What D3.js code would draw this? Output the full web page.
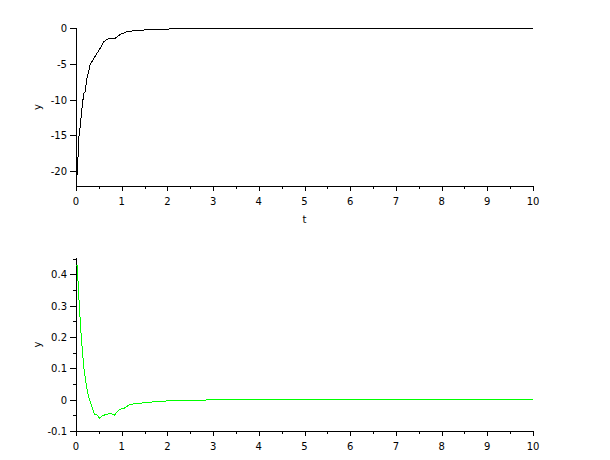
<!DOCTYPE html>
<html><head><meta charset="utf-8">
<script src="https://cdn.jsdelivr.net/npm/d3@7"></script>
<style>body{margin:0;background:#fff}svg{display:block}text{font-family:"DejaVu Sans",sans-serif;font-size:10px;fill:#000}</style>
</head><body>
<svg id="c" width="610" height="460"></svg>
<script>
// Data
const topT = [0, 0.01, 0.02, 0.04, 0.06, 0.095, 0.13, 0.17, 0.2, 0.24, 0.31, 0.39, 0.46, 0.53, 0.6, 0.72, 0.86, 0.97, 1.12, 1.23, 1.5, 2.04, 2.1, 10];
const topY = [-22.0, -20.8, -20.8, -18.7, -15.4, -13.6, -11.2, -9.1, -8.9, -7.0, -5.1, -4.2, -3.5, -2.8, -1.9, -1.4, -1.4, -0.85, -0.47, -0.38, -0.23, -0.1, 0, 0];
const botT = [0, 0.04, 0.044, 0.073, 0.095, 0.117, 0.146, 0.175, 0.22, 0.277, 0.35, 0.40, 0.46, 0.51, 0.58, 0.69, 0.75, 0.84, 0.89, 0.95, 1.06, 1.17, 1.31, 1.53, 1.79, 2.04, 2.81, 2.85, 10];
const botY = [0.428, 0.426, 0.38, 0.30, 0.247, 0.194, 0.146, 0.099, 0.051, 0.008, -0.024, -0.046, -0.048, -0.059, -0.051, -0.046, -0.043, -0.049, -0.041, -0.031, -0.027, -0.016, -0.012, -0.01, -0.005, -0.004, -0.004, -0.001, 0];
const xTicks = [0,1,2,3,4,5,6,7,8,9,10];
const xMinor = [0.5,1.5,2.5,3.5,4.5,5.5,6.5,7.5,8.5,9.5];
const topYTicks = [0,-5,-10,-15,-20];
const botYTicks = [0.4,0.3,0.2,0.1,0,-0.1];
const botYMinor = [0.45,0.35,0.25,0.15,0.05,-0.05];
const topDomain = [-22.07, 0];
const botDomain = [-0.1, 0.451];
const xDomain = [0, 10];

const svg = d3.select("#c");
const X0 = 76, X1 = 533;

function panel(opts){
  const x = d3.scaleLinear().domain(xDomain).range([X0, X1]);
  const y = d3.scaleLinear().domain(opts.domain).range([opts.bottom, opts.top]);
  const g = svg.append("g");
  g.append("line").attr("x1",X0).attr("x2",X0).attr("y1",opts.top).attr("y2",opts.bottom).attr("stroke","#000").attr("shape-rendering","crispEdges");
  g.append("line").attr("x1",X0).attr("x2",X1).attr("y1",opts.bottom).attr("y2",opts.bottom).attr("stroke","#000").attr("shape-rendering","crispEdges");
  g.selectAll(".xt").data(xTicks).enter().append("line")
    .attr("x1",d=>Math.round(x(d))+0.5).attr("x2",d=>Math.round(x(d))+0.5)
    .attr("y1",opts.bottom).attr("y2",opts.bottom+5).attr("stroke","#000");
  g.selectAll(".xm").data(xMinor).enter().append("line")
    .attr("x1",d=>Math.round(x(d))+0.5).attr("x2",d=>Math.round(x(d))+0.5)
    .attr("y1",opts.bottom).attr("y2",opts.bottom+3).attr("stroke","#000");
  g.selectAll(".xl").data(xTicks).enter().append("text")
    .attr("x",d=>x(d)).attr("y",opts.bottom+19).attr("text-anchor","middle").text(d=>d);
  g.selectAll(".yt").data(opts.yTicks).enter().append("line")
    .attr("y1",d=>Math.round(y(d))+0.5).attr("y2",d=>Math.round(y(d))+0.5)
    .attr("x1",X0-6).attr("x2",X0).attr("stroke","#000");
  g.selectAll(".ym").data(opts.yMinor).enter().append("line")
    .attr("y1",d=>Math.round(y(d))+0.5).attr("y2",d=>Math.round(y(d))+0.5)
    .attr("x1",X0-3).attr("x2",X0).attr("stroke","#000");
  g.selectAll(".yl").data(opts.yTicks).enter().append("text")
    .attr("x",67).attr("y",d=>y(d)+4).attr("text-anchor","end").text(d=>d);
  const cy = (opts.top+opts.bottom)/2;
  g.append("text").attr("transform",`translate(41,${cy}) rotate(-90)`).attr("text-anchor","middle").text("y");
  if (opts.xlabel) g.append("text").attr("x",(X0+X1)/2).attr("y",opts.bottom+37).attr("text-anchor","middle").text(opts.xlabel);
  const line = d3.line().x(d=>x(d[0])).y(d=>y(d[1]));
  g.append("path").datum(opts.t.map((t,i)=>[t,opts.v[i]]))
    .attr("d",line).attr("fill","none").attr("stroke",opts.color).attr("stroke-width",1)
    .attr("shape-rendering","crispEdges");
}

panel({domain: topDomain, top: 28.3, bottom: 186, yTicks: topYTicks, yMinor: [], t: topT, v: topY, color: "#000", xlabel: "t"});
panel({domain: botDomain, top: 258.3, bottom: 431, yTicks: botYTicks, yMinor: botYMinor, t: botT, v: botY, color: "#00ff00"});
</script>
</body></html>
